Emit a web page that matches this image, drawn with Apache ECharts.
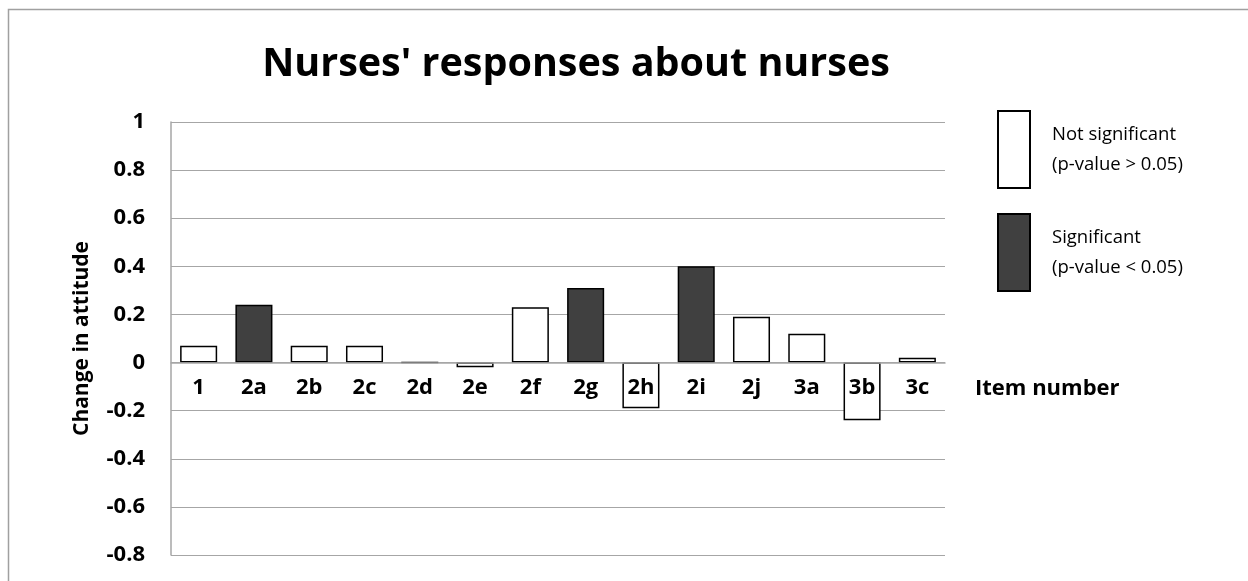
<!DOCTYPE html>
<html>
<head>
<meta charset="utf-8">
<title>Nurses' responses about nurses</title>
<script src="https://cdn.jsdelivr.net/npm/echarts@6/dist/echarts.min.js"></script>
<style>
html, body { margin: 0; padding: 0; background: #fff; }
#chart { width: 1248px; height: 581px; }
</style>
</head>
<body>
<div id="chart"></div>
<script>
// item numbers on the x axis
const categories = ['1', '2a', '2b', '2c', '2d', '2e', '2f', '2g', '2h', '2i', '2j', '3a', '3b', '3c']
// change in attitude per item
const values = [0.07, 0.24, 0.07, 0.07, 0, -0.02, 0.23, 0.31, -0.19, 0.40, 0.19, 0.12, -0.24, 0.02]
// true where p-value < 0.05
const significant = [false, true, false, false, false, false, false, true, false, true, false, false, false, false]
const yMin = -0.8
const yMax = 1
const yStep = 0.2

const notSigName = 'Not significant\n(p-value > 0.05)'
const sigName = 'Significant\n(p-value < 0.05)'

const notSigData = values.map((v, i) => significant[i] ? '-' : v)
const sigData = values.map((v, i) => significant[i] ? v : '-')

const font = '"Open Sans", "Noto Sans", sans-serif'

// plot box
const gridLeft = 171
const gridRight = 303
const gridTop = 122
const gridBottom = 26
const plotHeight = 581 - gridTop - gridBottom
// the category axis sits on the zero line, so lift it up from the bottom edge
const zeroOffset = plotHeight * (0 - yMin) / (yMax - yMin)
const zeroY = 581 - gridBottom - zeroOffset

const chart = echarts.init(document.getElementById('chart'))

const option = {
    backgroundColor: '#fff',
    animation: false,
    title: {
        text: "Nurses' responses about nurses",
        left: 571,
        textAlign: 'center',
        top: 40,
        textStyle: {
            fontFamily: font,
            fontSize: 39.5,
            fontWeight: 'bold',
            color: '#000'
        }
    },
    graphic: [{
        // outer chart border
        type: 'rect',
        shape: { x: 8.5, y: 9.5, width: 1260, height: 600 },
        style: { fill: 'none', stroke: '#a0a0a0', lineWidth: 1.5 },
        silent: true,
        z: -1
    }, {
        // x axis title, on the same row as the item labels
        type: 'text',
        x: 1248 - gridRight + 30,
        y: zeroY + 26,
        silent: true,
        style: {
            text: 'Item number',
            fontFamily: font,
            fontSize: 22,
            fontWeight: 'bold',
            fill: '#000',
            align: 'left',
            verticalAlign: 'middle'
        }
    }],
    legend: {
        orient: 'vertical',
        left: 997,
        top: 110,
        padding: 0,
        icon: 'rect',
        itemWidth: 32,
        itemHeight: 77,
        itemGap: 24,
        data: [notSigName, sigName],
        textStyle: {
            fontFamily: font,
            fontSize: 18.5,
            color: '#000',
            lineHeight: 30,
            padding: [0, 0, 0, 17]
        }
    },
    grid: {
        left: gridLeft,
        right: gridRight,
        top: gridTop,
        bottom: gridBottom,
        containLabel: false,
        outerBoundsMode: 'none'
    },
    xAxis: {
        type: 'category',
        data: categories,
        position: 'bottom',
        offset: -zeroOffset,
        z: 10,
        axisTick: { show: false },
        axisLine: { onZero: false, lineStyle: { color: '#a6a6a6', width: 1.5 } },
        axisLabel: {
            margin: 14,
            fontFamily: font,
            fontSize: 22,
            fontWeight: 'bold',
            color: '#000'
        }
    },
    yAxis: {
        type: 'value',
        min: yMin,
        max: yMax,
        interval: yStep,
        axisLine: { show: true, lineStyle: { color: '#a6a6a6', width: 1.5 } },
        axisTick: { show: false },
        splitLine: { lineStyle: { color: '#a6a6a6', width: 1.2 } },
        axisLabel: {
            margin: 26,
            fontFamily: font,
            fontSize: 22,
            fontWeight: 'bold',
            color: '#000',
            formatter: function (v) {
                return String(Math.round(v * 10) / 10)
            }
        },
        name: 'Change in attitude',
        nameLocation: 'middle',
        nameGap: 78,
        nameTextStyle: {
            fontFamily: font,
            fontSize: 21,
            fontWeight: 'bold',
            color: '#000'
        }
    },
    series: [{
        type: 'bar',
        name: notSigName,
        stack: 'items',
        barWidth: '67%',
        data: notSigData,
        itemStyle: { color: '#fff', borderColor: '#000', borderWidth: 1.5 }
    }, {
        type: 'bar',
        name: sigName,
        stack: 'items',
        barWidth: '67%',
        data: sigData,
        itemStyle: { color: '#404040', borderColor: '#000', borderWidth: 1.5 }
    }]
}

chart.setOption(option)
</script>
</body>
</html>
